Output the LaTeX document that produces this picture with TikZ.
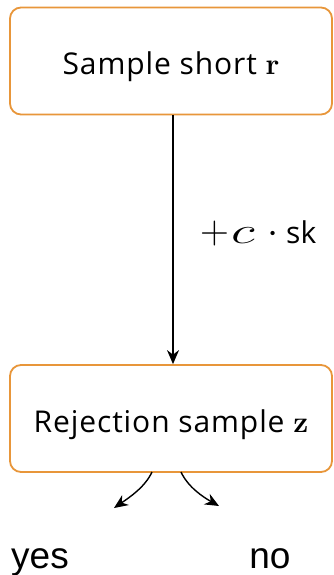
\RequirePackage{fix-cm}
\documentclass[tikz,border=0pt]{standalone}
\usepackage[no-math]{fontspec}
\setmainfont{Open Sans}[LetterSpace=3]
\newfontfamily\yesnofont{Liberation Sans}
\newfontfamily\sansplain{Open Sans}
\newfontfamily\lmr{Latin Modern Roman}
\newcommand{\bvec}[1]{{\lmr\bfseries #1}}
\usetikzlibrary{arrows.meta}
\definecolor{boxorange}{HTML}{E8963A}
\tikzset{
  box/.style={draw=boxorange, line width=1.8pt, rounded corners=11pt, minimum width=322pt, minimum height=107pt, fill=white, font=\fontsize{30}{34}\selectfont, text height=28pt, text depth=0pt},
  conn/.style={line width=1.4pt, -{Stealth[length=14pt,width=12pt]}},
  outcome/.style={font=\yesnofont\fontsize{37}{40}\selectfont, inner sep=0pt, anchor=base}
}
\begin{document}
\begin{tikzpicture}[x=1pt,y=1pt]
\useasboundingbox (0,0) rectangle (334,-575);
\node[box] (top) at (171,-61) {Sample short \bvec{r}};
\node[box] (bot) at (171,-418.5) {Rejection sample \bvec{z}};
\draw[conn] (top.south -| 173,0) -- (bot.north -| 173,0);
\node[font=\fontsize{40}{44}\selectfont, inner sep=0pt, anchor=base west] (lab) at (200,-243) {\makebox[31pt][l]{$+$}\makebox[36pt][l]{\scalebox{1.4}[0.92]{$c$}}\makebox[19pt][l]{$\cdot$}{\sansplain\fontsize{30}{32}\selectfont sk}};
\coordinate (yestip) at (114,-508);
\coordinate (notip) at (219,-506);
\draw[conn] (152,-472) .. controls (145,-487) and (130,-497) .. (yestip);
\draw[conn] (181,-472) .. controls (188,-487) and (203,-497) .. (notip);
\node[outcome] (yes) at (40,-568) {yes};
\node[outcome] (no) at (270,-568) {no};
\end{tikzpicture}
\end{document}
